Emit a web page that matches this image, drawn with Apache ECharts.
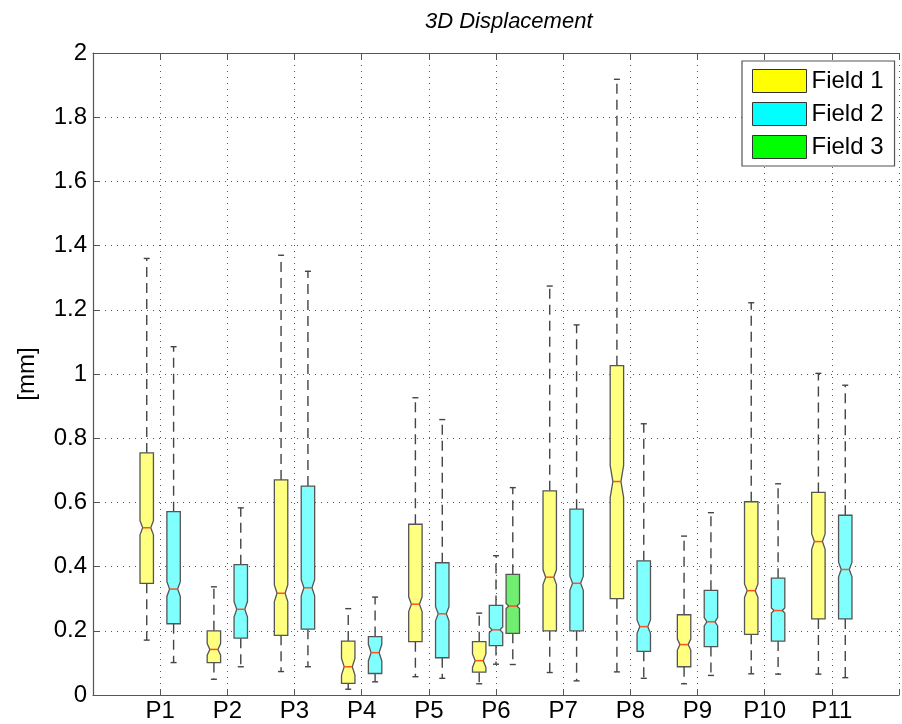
<!DOCTYPE html>
<html>
<head>
<meta charset="utf-8">
<script src="https://cdn.jsdelivr.net/npm/echarts@6/dist/echarts.min.js"></script>
<style>
  html, body { margin: 0; padding: 0; background: #fff; }
  #main { width: 902px; height: 724px; }
</style>
</head>
<body>
<div id="main"></div>
<script>
// categories and tick labels
const categories = ["P1", "P2", "P3", "P4", "P5", "P6", "P7", "P8", "P9", "P10", "P11"];
const yTicks = [0, 0.2, 0.4, 0.6, 0.8, 1, 1.2, 1.4, 1.6, 1.8, 2];
const fieldNames = ["Field 1", "Field 2", "Field 3"];

// each row: [lower whisker, q1, median, q3, upper whisker], null = no box
const field1 = [
  [0.171, 0.348, 0.521, 0.754, 1.36],
  [0.049, 0.101, 0.142, 0.200, 0.337],
  [0.073, 0.186, 0.317, 0.670, 1.37],
  [0.018, 0.036, 0.088, 0.168, 0.269],
  [0.057, 0.166, 0.283, 0.532, 0.926],
  [0.035, 0.071, 0.107, 0.166, 0.255],
  [0.070, 0.200, 0.367, 0.636, 1.274],
  [0.072, 0.300, 0.665, 1.026, 1.918],
  [0.035, 0.088, 0.157, 0.250, 0.495],
  [0.066, 0.189, 0.325, 0.602, 1.222],
  [0.065, 0.237, 0.478, 0.631, 1.002]
];
const field2 = [
  [0.101, 0.222, 0.330, 0.571, 1.085],
  [0.088, 0.177, 0.267, 0.406, 0.583],
  [0.088, 0.205, 0.334, 0.651, 1.32],
  [0.041, 0.067, 0.132, 0.182, 0.305],
  [0.052, 0.116, 0.253, 0.412, 0.858],
  [0.096, 0.154, 0.203, 0.279, 0.434],
  [0.044, 0.200, 0.348, 0.579, 1.153],
  [0.052, 0.136, 0.213, 0.418, 0.845],
  [0.061, 0.151, 0.228, 0.326, 0.568],
  [0.065, 0.168, 0.263, 0.364, 0.658],
  [0.054, 0.237, 0.391, 0.560, 0.965]
];
const field3 = [null, null, null, null, null,
  [0.095, 0.192, 0.277, 0.376, 0.646],
  null, null, null, null, null];

// notch half heights
const notch1 = [0.022, 0.018, 0.026, 0.026, 0.023, 0.021, 0.023, 0.050, 0.017, 0.021, 0.024];
const notch2 = [0.023, 0.024, 0.025, 0.026, 0.022, 0.009, 0.022, 0.021, 0.013, 0.008, 0.023];
const notch3 = [null, null, null, null, null, 0.008, null, null, null, null, null];

const legendColors = ["#ffff00", "#00ffff", "#00ff00"];
const boxColors = ["#ffff80", "#80ffff", "#70ee70"];
const edgeColor = "#555";
const font = "'Liberation Sans', Arial, Helvetica, sans-serif";

const allFields = [field1, field2, field3];
const allNotch = [notch1, notch2, notch3];

function offsetFor(catIdx, fieldIdx) {
  let present = [];
  for (let f = 0; f < allFields.length; f++) if (allFields[f][catIdx]) present.push(f);
  let k = present.indexOf(fieldIdx);
  if (present.length === 3) return [-0.25, 0, 0.25][k];
  return [-0.2, 0.2][k];
}

function makeRender(fieldIdx) {
  return function (params, api) {
    const cat = api.value(0);
    const x = cat + 1 + offsetFor(cat, fieldIdx);
    const lo = api.value(1), q1 = api.value(2), med = api.value(3),
      q3 = api.value(4), hi = api.value(5), n = api.value(6);
    const hw = api.size([0.2, 0])[0] / 2;
    const depth = hw * 2 * 0.2;
    const pLo = api.coord([x, lo]), pQ1 = api.coord([x, q1]), pMed = api.coord([x, med]);
    const pQ3 = api.coord([x, q3]), pHi = api.coord([x, hi]);
    const yN1 = api.coord([x, med - n])[1], yN2 = api.coord([x, med + n])[1];
    const cx = pMed[0], cap = 3;
    const wStyle = { stroke: "#444", lineWidth: 1.4, lineDash: [10, 6] };
    const cStyle = { stroke: "#444", lineWidth: 1.4 };
    return {
      type: "group",
      children: [
        { type: "line", shape: { x1: cx, y1: pQ3[1], x2: cx, y2: pHi[1] }, style: wStyle },
        { type: "line", shape: { x1: cx, y1: pQ1[1], x2: cx, y2: pLo[1] }, style: wStyle },
        { type: "line", shape: { x1: cx - cap, y1: pHi[1], x2: cx + cap, y2: pHi[1] }, style: cStyle },
        { type: "line", shape: { x1: cx - cap, y1: pLo[1], x2: cx + cap, y2: pLo[1] }, style: cStyle },
        {
          type: "polygon",
          shape: {
            points: [
              [cx - hw, pQ1[1]], [cx + hw, pQ1[1]], [cx + hw, yN1],
              [cx + hw - depth, pMed[1]], [cx + hw, yN2], [cx + hw, pQ3[1]],
              [cx - hw, pQ3[1]], [cx - hw, yN2], [cx - hw + depth, pMed[1]],
              [cx - hw, yN1]
            ]
          },
          style: { fill: boxColors[fieldIdx], stroke: edgeColor, lineWidth: 1.3 }
        },
        {
          type: "line",
          shape: { x1: cx - hw + depth, y1: pMed[1], x2: cx + hw - depth, y2: pMed[1] },
          style: { stroke: "#ff5020", lineWidth: 1.5 }
        }
      ]
    };
  };
}

const series = allFields.map(function (field, f) {
  const data = [];
  field.forEach(function (row, i) {
    if (row) data.push([i, row[0], row[1], row[2], row[3], row[4], allNotch[f][i]]);
  });
  return {
    name: fieldNames[f],
    type: "custom",
    renderItem: makeRender(f),
    itemStyle: { color: legendColors[f] },
    encode: { x: 0, y: [1, 5] },
    data: data,
    z: 5
  };
});

const chart = echarts.init(document.getElementById("main"));
chart.setOption({
  animation: false,
  backgroundColor: "#fff",
  title: {
    text: "3D Displacement",
    left: 420,
    top: 6,
    textStyle: { fontFamily: font, fontSize: 22, fontStyle: "italic", fontWeight: "normal", color: "#000" }
  },
  legend: {
    orient: "vertical",
    left: 742,
    top: 61,
    padding: [8, 11, 7, 10],
    itemWidth: 54,
    itemHeight: 23,
    itemGap: 9,
    itemTextGap: 6,
    icon: "rect",
    backgroundColor: "#fff",
    borderColor: edgeColor,
    borderWidth: 1.2,
    itemStyle: { borderColor: "#333", borderWidth: 1 },
    textStyle: { fontFamily: font, fontSize: 24, color: "#000" },
    data: fieldNames.map(function (nm, i) {
      return { name: nm, itemStyle: { color: legendColors[i] } };
    })
  },
  grid: { left: 93, top: 53, width: 814, height: 642 },
  xAxis: [
    {
      type: "value", min: 0, max: 12, interval: 1, position: "bottom",
      axisLine: { show: true, onZero: false, lineStyle: { color: edgeColor, width: 1.2 } },
      axisTick: { show: true, inside: true, length: 6, lineStyle: { color: edgeColor } },
      axisLabel: {
        margin: 4, fontFamily: font, fontSize: 24, color: "#000",
        formatter: function (v) { return categories[v - 1] || ""; }
      },
      splitLine: { show: true, lineStyle: { color: "#555", type: [1, 5], width: 1 } }
    },
    {
      type: "value", min: 0, max: 12, interval: 1, position: "top",
      axisLine: { show: true, onZero: false, lineStyle: { color: edgeColor, width: 1.2 } },
      axisTick: { show: true, inside: true, length: 6, lineStyle: { color: edgeColor } },
      axisLabel: { show: false },
      splitLine: { show: false }
    }
  ],
  yAxis: {
    type: "value", min: yTicks[0], max: yTicks[yTicks.length - 1], interval: 0.2,
    name: "[mm]", nameLocation: "middle", nameGap: 54, nameRotate: 90,
    nameTextStyle: { fontFamily: font, fontSize: 24, color: "#000" },
    axisLine: { show: true, lineStyle: { color: edgeColor, width: 1.2 } },
    axisTick: { show: true, inside: true, length: 6, lineStyle: { color: edgeColor } },
    axisLabel: { margin: 6, fontFamily: font, fontSize: 24, color: "#000" },
    splitLine: { show: true, lineStyle: { color: "#555", type: [1, 5], width: 1 } }
  },
  series: series
});
</script>
</body>
</html>
